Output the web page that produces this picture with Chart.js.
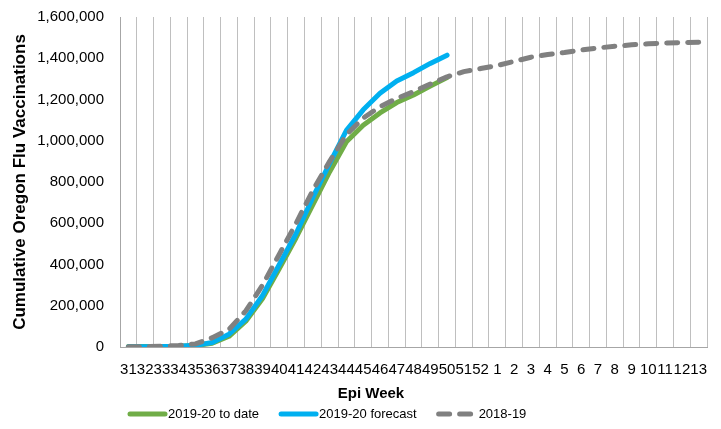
<!DOCTYPE html>
<html>
<head>
<meta charset="utf-8">
<script src="https://cdn.jsdelivr.net/npm/chart.js@4"></script>
<style>
  html, body { margin: 0; padding: 0; background: #fff; }
  #wrap { width: 721px; height: 429px; }
</style>
</head>
<body>
<div id="wrap"><canvas id="chart" width="721" height="429"></canvas></div>
<script>
const weeks = ['31', '32', '33', '34', '35', '36', '37', '38', '39', '40', '41', '42', '43', '44', '45', '46',
  '47', '48', '49', '50', '51', '52', '1', '2', '3', '4', '5', '6', '7', '8', '9', '10', '11', '12', '13'];

// 2019-20 season so far (weeks 31-50)
const toDate = [2000, 2000, 3000, 4000, 7000, 18000, 52000, 125000, 235000, 380000, 530000, 690000,
  850000, 995000, 1075000, 1135000, 1185000, 1222000, 1265000, 1306000];

const forecast = [1000, 1500, 2500, 4000, 8000, 22000, 62000, 135000, 250000, 400000, 550000, 725000,
  890000, 1050000, 1150000, 1230000, 1290000, 1330000, 1375000, 1415000];

const lastSeason = [1000, 2000, 4000, 7000, 15000, 45000, 85000, 175000, 300000, 450000, 600000, 760000,
  900000, 1030000, 1110000, 1165000, 1205000, 1238000, 1275000, 1310000, 1335000, 1350000, 1365000,
  1385000, 1405000, 1418000, 1428000, 1440000, 1450000, 1458000, 1465000, 1470000, 1474000, 1476000, 1478000];

const yTicks = [0, 200000, 400000, 600000, 800000, 1000000, 1200000, 1400000, 1600000];

const FONT = '"Liberation Sans", Arial, sans-serif';
const GREEN = '#70ad47';
const BLUE = '#00b0f0';
const GREY = '#808080';

function pad(arr, n) {
  const out = arr.slice();
  while (out.length < n) out.push(null);
  return out;
}

// x title + legend drawn by hand so they sit where the original has them
const extras = {
  id: 'extras',
  afterDraw(chart) {
    const ctx = chart.ctx;
    ctx.save();
    ctx.fillStyle = '#000';
    ctx.textBaseline = 'middle';
    ctx.textAlign = 'center';
    ctx.font = 'bold 15px ' + FONT;
    ctx.fillText('Epi Week', 371, 394);

    ctx.font = '13px ' + FONT;
    ctx.textAlign = 'left';
    const y = 414;
    let x = 128;
    chart.data.datasets.forEach(ds => {
      ctx.beginPath();
      ctx.strokeStyle = ds.borderColor;
      ctx.lineWidth = 5;
      ctx.lineCap = 'round';
      ctx.setLineDash(ds.borderDash || []);
      ctx.moveTo(x + 2, y);
      ctx.lineTo(x + 37, y);
      ctx.stroke();
      ctx.setLineDash([]);
      const tx = x + (ds.borderDash ? 42 : 40);
      ctx.fillText(ds.label, tx, y);
      x = tx + ctx.measureText(ds.label).width + 20;
    });
    ctx.restore();
  }
};

new Chart(document.getElementById('chart'), {
  type: 'line',
  data: {
    labels: weeks,
    datasets: [
      {
        label: '2019-20 to date',
        data: pad(toDate, weeks.length),
        borderColor: GREEN,
        borderWidth: 5,
        order: 2
      },
      {
        label: '2019-20 forecast',
        data: pad(forecast, weeks.length),
        borderColor: BLUE,
        borderWidth: 5,
        order: 1
      },
      {
        label: '2018-19',
        data: lastSeason,
        borderColor: GREY,
        borderWidth: 5,
        borderDash: [11, 10],
        order: 0
      }
    ]
  },
  plugins: [extras],
  options: {
    responsive: false,
    animation: false,
    layout: { padding: 0 },
    elements: {
      point: { radius: 0 },
      line: { tension: 0, borderCapStyle: 'round', borderJoinStyle: 'round' }
    },
    plugins: {
      legend: { display: false },
      tooltip: { enabled: false }
    },
    scales: {
      x: {
        offset: true,
        grid: { offset: true, color: '#bfbfbf', lineWidth: 1, drawTicks: false },
        border: { color: '#a6a6a6' },
        ticks: {
          autoSkip: false, maxRotation: 0, minRotation: 0, padding: 14,
          color: '#000', font: { family: FONT, size: 15 }
        },
        afterFit(scale) { scale.height = 82; }
      },
      y: {
        min: 0,
        max: 1600000,
        afterBuildTicks(scale) { scale.ticks = yTicks.map(v => ({ value: v })); },
        grid: { display: false, drawTicks: false },
        border: { color: '#a6a6a6' },
        ticks: {
          padding: 16,
          color: '#000',
          font: { family: FONT, size: 15 },
          callback: v => Number(v).toLocaleString('en-US')
        },
        title: {
          display: true,
          text: 'Cumulative Oregon Flu Vaccinations',
          color: '#000',
          font: { family: FONT, size: 17, weight: 'bold' },
          padding: { top: 10, bottom: 4 }
        },
        afterFit(scale) {
          scale.width = 120;
          scale.paddingTop = 17;
          scale.paddingBottom = 0;
        }
      }
    }
  }
});
</script>
</body>
</html>
